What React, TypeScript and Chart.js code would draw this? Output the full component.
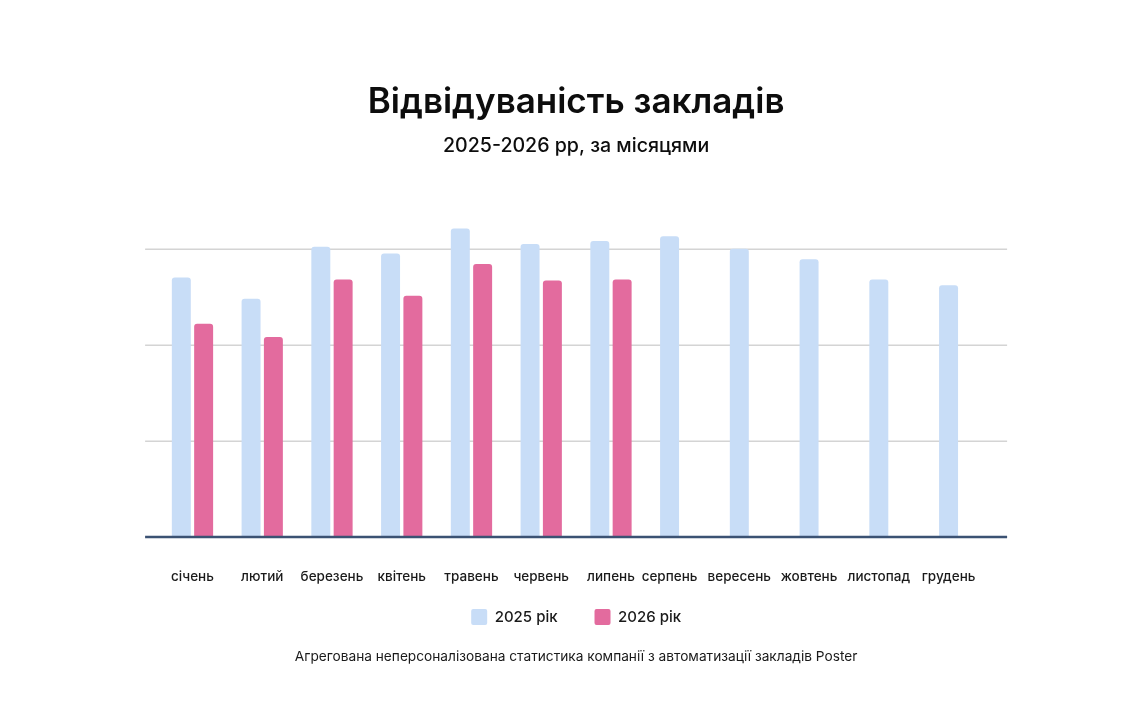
import React, { useEffect, useRef } from "react";
import { Chart, registerables } from "chart.js";

Chart.register(...registerables);

const months = [
  "січень", "лютий", "березень", "квітень", "травень", "червень",
  "липень", "серпень", "вересень", "жовтень", "листопад", "грудень",
];
const visits2025 = [2.7, 2.48, 3.02, 2.95, 3.21, 3.05, 3.08, 3.13, 3.0, 2.89, 2.68, 2.62];
const visits2026 = [2.22, 2.08, 2.68, 2.51, 2.84, 2.67, 2.68, null, null, null, null, null];
const gridValues = [1, 2, 3];
const seriesNames = ["2025 рік", "2026 рік"];
const titleText = "Відвідуваність закладів";
const subtitleText = "2025-2026 рр, за місяцями";
const footerText = "Агрегована неперсоналізована статистика компанії з автоматизації закладів Poster";

const FONT = "Inter, 'Noto Sans', sans-serif";

const decorPlugin = {
  id: "decor",
  beforeDatasetsDraw(chart: any) {
    const { ctx, chartArea, scales } = chart;
    const y = scales.y;
    ctx.save();
    ctx.strokeStyle = "#d4d4d4";
    ctx.lineWidth = 1.5;
    for (const v of gridValues) {
      const py = Math.round(y.getPixelForValue(v)) + 0.25;
      ctx.beginPath();
      ctx.moveTo(chartArea.left - 12.5, py);
      ctx.lineTo(chartArea.right + 12.5, py);
      ctx.stroke();
    }
    ctx.restore();
  },
  afterDatasetsDraw(chart: any) {
    const { ctx, chartArea, scales } = chart;
    const py = scales.y.getPixelForValue(0);
    ctx.save();
    ctx.strokeStyle = "#3b5273";
    ctx.lineWidth = 2.5;
    ctx.beginPath();
    ctx.moveTo(chartArea.left - 12.5, py);
    ctx.lineTo(chartArea.right + 12.5, py);
    ctx.stroke();
    ctx.restore();
  },
  afterDraw(chart: any) {
    const { ctx, chartArea } = chart;
    ctx.save();
    ctx.fillStyle = "#1a1a1a";
    ctx.textAlign = "center";
    ctx.textBaseline = "middle";
    ctx.font = `500 13.5px ${FONT}`;
    months.forEach((m, i) => {
      const xs: number[] = [];
      chart.data.datasets.forEach((ds: any, di: number) => {
        if (ds.data[i] !== null && ds.data[i] !== undefined) {
          const el = chart.getDatasetMeta(di).data[i];
          if (el) xs.push(el.x);
        }
      });
      const x = xs.reduce((a, b) => a + b, 0) / xs.length;
      ctx.fillText(m, x, chartArea.bottom + 40);
    });
    ctx.font = `400 13.7px ${FONT}`;
    ctx.fillText(footerText, (chartArea.left + chartArea.right) / 2, 657);
    ctx.restore();
  },
};

export default function App() {
  const ref = useRef<HTMLCanvasElement | null>(null);

  useEffect(() => {
    document.body.style.margin = "0";
    const canvas = ref.current;
    if (!canvas) return;
    const chart = new Chart(canvas, {
      type: "bar",
      data: {
        labels: months,
        datasets: [
          {
            label: seriesNames[0],
            data: visits2025,
            backgroundColor: "#c8ddf7",
            borderRadius: 3,
            borderSkipped: "start",
          },
          {
            label: seriesNames[1],
            data: visits2026,
            backgroundColor: "#e36b9e",
            borderRadius: 3,
            borderSkipped: "start",
          },
        ],
      },
      options: {
        animation: false,
        responsive: false,
        maintainAspectRatio: false,
        devicePixelRatio: 1,
        layout: { padding: { left: 157.6, right: 131.4, top: 81, bottom: 91 } },
        datasets: { bar: { categoryPercentage: 0.64, barPercentage: 0.85 } },
        scales: {
          x: {
            display: true,
            grid: { display: false },
            border: { display: false },
            ticks: { display: false },
            afterFit: (scale: any) => {
              scale.height = 35;
            },
          },
          y: { display: false, min: 0, max: 3.6 },
        },
        plugins: {
          title: {
            display: true,
            text: titleText,
            color: "#0d0d0d",
            font: { family: FONT, size: 35, weight: 600, lineHeight: 1.2 },
            padding: { top: 0, bottom: 0 },
          },
          subtitle: {
            display: true,
            text: subtitleText,
            color: "#0d0d0d",
            font: { family: FONT, size: 19.6, weight: 500, lineHeight: 1.2 },
            padding: { top: 11.5, bottom: 33.0 },
          },
          legend: {
            display: true,
            position: "bottom",
            labels: {
              boxWidth: 16,
              boxHeight: 16,
              padding: 37,
              color: "#1a1a1a",
              font: { family: FONT, size: 15, weight: 500 },
              useBorderRadius: true,
              borderRadius: 2,
            },
          },
          tooltip: { enabled: false },
        },
      },
      plugins: [decorPlugin],
    });
    return () => chart.destroy();
  }, []);

  return (
    <div style={{ position: "fixed", left: 0, top: 0, width: 1126, height: 726, background: "#fff" }}>
      <canvas ref={ref} width={1126} height={726} style={{ width: 1126, height: 726 }} />
    </div>
  );
}
